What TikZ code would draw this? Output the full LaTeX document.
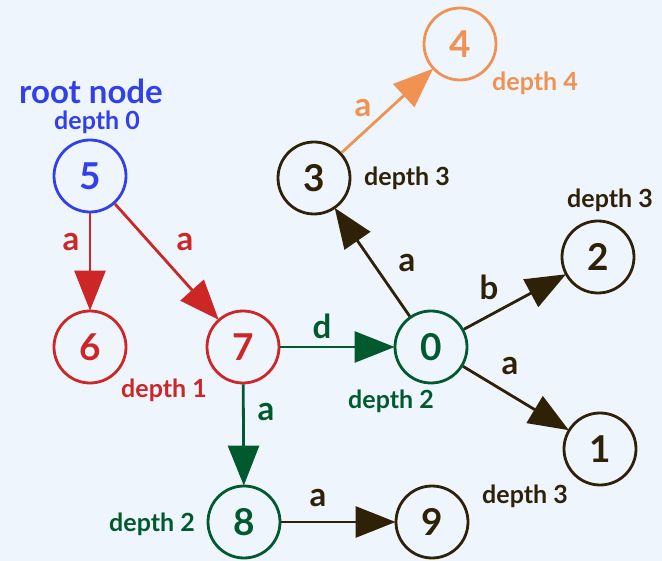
\documentclass[tikz,border=0pt]{standalone}
\usepackage{fontspec}
\setmainfont{Lato}
\usetikzlibrary{arrows.meta}
\definecolor{bg}{HTML}{EFF5FD}
\definecolor{cblue}{HTML}{3240EA}
\definecolor{cred}{HTML}{CC2626}
\definecolor{cgreen}{HTML}{005A2D}
\definecolor{cdark}{HTML}{2F2108}
\definecolor{corange}{HTML}{F09252}
\tikzset{
  st/.style={circle, draw=#1, text=#1, line width=2.8pt, minimum size=72pt, inner sep=0pt,
    font=\fontsize{37}{37}\selectfont\bfseries},
  dl/.style={text=#1, font=\fontsize{25}{25}\selectfont\bfseries, inner sep=0pt},
  el/.style={text=#1, font=\fontsize{33}{33}\selectfont\bfseries, inner sep=0pt},
  ed/.style={draw=#1, line width=2.8pt, -{Triangle[length=40pt,width=31pt]}, shorten >=-1pt},
}
\begin{document}
\begin{tikzpicture}[x=1pt,y=-1pt]
\fill[bg] (0,0) rectangle (662,561);
\useasboundingbox (0,0) rectangle (662,561);
% nodes
\node[st=cblue] (n5) at (90,176) {5};
\node[st=cred] (n6) at (90,347) {6};
\node[st=cred] (n7) at (243,347) {7};
\node[st=cgreen] (n0) at (431,347) {0};
\node[st=cgreen] (n8) at (244,522) {8};
\node[st=cdark] (n9) at (432,522) {9};
\node[st=cdark] (n3) at (314,178) {3};
\node[st=corange] (n4) at (460,44) {4};
\node[st=cdark] (n2) at (598,257) {2};
\node[st=cdark] (n1) at (600,449) {1};
% depth labels
\node[text=cblue, font=\fontsize{33}{33}\selectfont\bfseries, inner sep=0pt] (root) at (91,91) {root node};
\node[dl=cblue] (d5) at (97,122) {depth 0};
\node[dl=corange] (d4) at (535,83) {depth 4};
\node[dl=cdark] (d3) at (407,178) {depth 3};
\node[dl=cdark] (d2) at (610,200) {depth 3};
\node[dl=cred] (d7) at (164,390) {depth 1};
\node[dl=cgreen] (d0) at (391,401) {depth 2};
\node[dl=cdark] (d1) at (525,496) {depth 3};
\node[dl=cgreen] (d8) at (152,524) {depth 2};
% edges
\draw[ed=cred] (n5) -- (n6);
\draw[ed=cred] (n5) -- (n7);
\draw[ed=cgreen] (n7) -- (n0);
\draw[ed=cgreen] (n7) -- (n8);
\draw[ed=cdark] (n8) -- (n9);
\draw[ed=cdark] (n0) -- (n3);
\draw[ed=cdark] (n0) -- (n2);
\draw[ed=cdark] (n0) -- (n1);
\draw[ed=corange] (n3) -- (n4);
% edge labels
\node[el=cred] (l56) at (71,242) {a};
\node[el=cred] (l57) at (185,242) {a};
\node[el=cgreen] (l70) at (322,326) {d};
\node[el=cgreen] (l78) at (266,412) {a};
\node[el=cdark] (l89) at (318,498) {a};
\node[el=cdark] (l03) at (407,263) {a};
\node[el=cdark] (l02) at (489,287) {b};
\node[el=cdark] (l01) at (510,366) {a};
\node[el=corange] (l34) at (363,108) {a};
\end{tikzpicture}
\end{document}
